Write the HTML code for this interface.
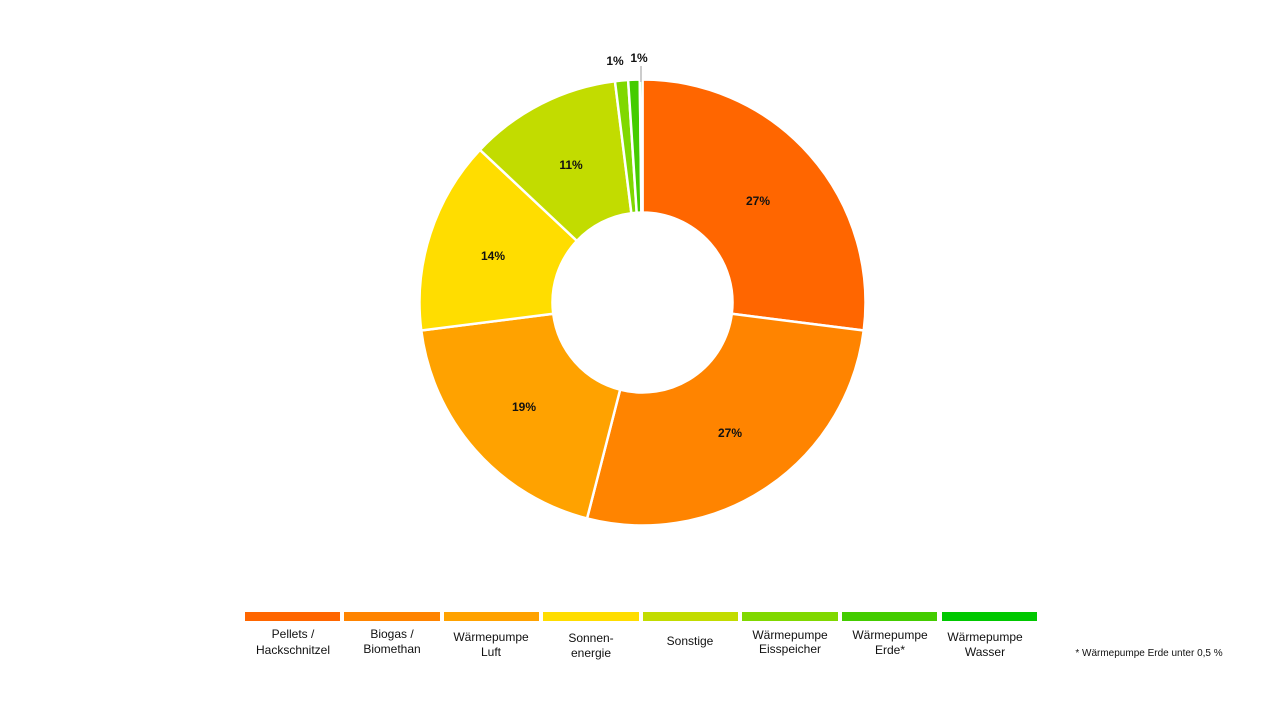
<!DOCTYPE html>
<html><head><meta charset="utf-8"><style>
body{margin:0;background:#fff;width:1280px;height:720px;overflow:hidden;font-family:"Liberation Sans",sans-serif}
svg{position:absolute;left:0;top:0}
</style></head><body>
<svg id="s" width="1280" height="720" xmlns="http://www.w3.org/2000/svg" font-family="Liberation Sans, sans-serif">
<g id="slices"></g>
<line x1="641" y1="66" x2="641" y2="82" stroke="#999" stroke-width="1"/>
<g font-size="12" font-weight="bold" fill="#111" text-anchor="middle">
<text x="758" y="205">27%</text>
<text x="730" y="437">27%</text>
<text x="524" y="411">19%</text>
<text x="493" y="260">14%</text>
<text x="571" y="169">11%</text>
<text x="615" y="65">1%</text>
<text x="639" y="62">1%</text>
</g>
<g>
<rect x="245" y="612" width="95" height="9" fill="#ff6600"/>
<rect x="344" y="612" width="96" height="9" fill="#ff8400"/>
<rect x="444" y="612" width="95" height="9" fill="#ffa200"/>
<rect x="543" y="612" width="96" height="9" fill="#ffdd00"/>
<rect x="643" y="612" width="95" height="9" fill="#c2dc00"/>
<rect x="742" y="612" width="96" height="9" fill="#80d800"/>
<rect x="842" y="612" width="95" height="9" fill="#44cc00"/>
<rect x="942" y="612" width="95" height="9" fill="#00c800"/>
</g>
<g font-size="12" fill="#111" text-anchor="middle">
<text x="293" y="638">Pellets /</text><text x="293" y="654">Hackschnitzel</text>
<text x="392" y="638">Biogas /</text><text x="392" y="653">Biomethan</text>
<text x="491" y="641">Wärmepumpe</text><text x="491" y="656">Luft</text>
<text x="591" y="642">Sonnen-</text><text x="591" y="657">energie</text>
<text x="690" y="645">Sonstige</text>
<text x="790" y="639">Wärmepumpe</text><text x="790" y="653">Eisspeicher</text>
<text x="890" y="639">Wärmepumpe</text><text x="890" y="654">Erde*</text>
<text x="985" y="641">Wärmepumpe</text><text x="985" y="656">Wasser</text>
<text x="1149" y="656" font-size="10">* Wärmepumpe Erde unter 0,5 %</text>
</g>
</svg>
<script>
var cx=642.5,cy=302.5,R=223,r=90;
var segs=[[0,97.2,"#ff6600"],[97.2,194.4,"#ff8400"],[194.4,262.8,"#ffa200"],[262.8,313.2,"#ffdd00"],[313.2,352.9,"#c2dc00"],[352.9,356.3,"#80d800"],[356.3,359.3,"#44cc00"],[359.3,360,"#00c800"]];
function p(a,rad){a=a*Math.PI/180;return (cx+rad*Math.sin(a)).toFixed(2)+","+(cy-rad*Math.cos(a)).toFixed(2);}
var h="";
segs.forEach(function(s){var l=(s[1]-s[0])>180?1:0;
h+='<path d="M'+p(s[0],R)+' A'+R+','+R+' 0 '+l+' 1 '+p(s[1],R)+' L'+p(s[1],r)+' A'+r+','+r+' 0 '+l+' 0 '+p(s[0],r)+' Z" fill="'+s[2]+'" stroke="#fff" stroke-width="2.5"/>';});
document.getElementById("slices").innerHTML=h;
</script>
</body></html>
